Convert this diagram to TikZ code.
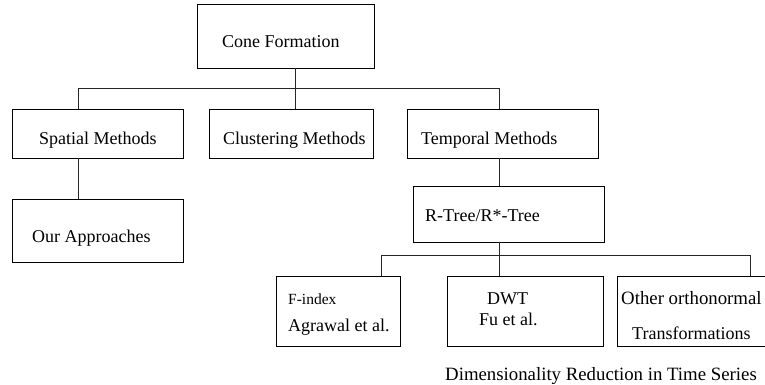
\documentclass[tikz,border=0pt]{standalone}
\usepackage{fontspec}
\setmainfont{Liberation Serif}
\usepackage{tikz}
\usetikzlibrary{calc}

\begin{document}
\begin{tikzpicture}[x=1pt,y=-1pt,
    box/.style={draw=black,line width=0.9pt,inner sep=0pt},
    txt/.style={inner sep=0pt,anchor=base west,font=\fontsize{18}{22}\selectfont},
    small/.style={txt,font=\fontsize{15.5}{19}\selectfont},
    big/.style={txt,font=\fontsize{18.8}{22}\selectfont},
    conn/.style={draw=black!85,line width=0.9pt}]
    \clip (0,0) rectangle (765,385);
    \useasboundingbox (0,0) rectangle (765,385);

    \node[box,minimum width=177pt,minimum height=64pt] (cone) at (285.5,36) {};
    \node[box,minimum width=171pt,minimum height=49pt] (spatial) at (97.5,133.5) {};
    \node[box,minimum width=164pt,minimum height=49pt] (cluster) at (291,133.5) {};
    \node[box,minimum width=191pt,minimum height=49pt] (temporal) at (502.5,133.5) {};
    \node[box,minimum width=171pt,minimum height=63pt] (approach) at (97.5,230.5) {};
    \node[box,minimum width=191pt,minimum height=56pt] (rtree) at (508.5,214) {};
    \node[box,minimum width=124pt,minimum height=70pt] (findex) at (338,311) {};
    \node[box,minimum width=156pt,minimum height=70pt] (dwt) at (525,311) {};
    \node[box,minimum width=180pt,minimum height=70pt] (other) at (707,311) {};

    \node[txt] (coneT) at (222,47.7) {Cone Formation};
    \node[txt] (spatialT) at (39,144) {Spatial Methods};
    \node[txt] (clusterT) at (223,144) {Clustering Methods};
    \node[txt] (temporalT) at (421,144) {Temporal Methods};
    \node[txt] (approachT) at (32,242) {Our Approaches};
    \node[txt] (rtreeT) at (425,221.7) {R-Tree/R*-Tree};
    \node[small] (findexT) at (288,304) {F-index};
    \node[txt] (agrawalT) at (288,331.7) {Agrawal et al.};
    \node[txt] (dwtT) at (487,304) {DWT};
    \node[txt] (fuT) at (479,325) {Fu et al.};
    \node[big] (otherT) at (621,304) {Other orthonormal};
    \node[txt] (transT) at (632,339) {Transformations};
    \node[big] (caption) at (445,380) {Dimensionality Reduction in Time Series};

    \coordinate (sp) at (78,88);
    \coordinate (cl) at (295,88);
    \coordinate (tm) at (499,88);
    \coordinate (fb) at (381,255);
    \coordinate (ob) at (750,255);

    \draw[conn] (cone.south -| cl) -- (cluster.north -| cl);
    \draw[conn] (spatial.north -| sp) -- (sp) -- (tm) -- (temporal.north -| tm);
    \draw[conn] (spatial.south -| sp) -- (approach.north -| sp);
    \draw[conn] (temporal.south -| tm) -- (rtree.north -| tm);
    \draw[conn] (rtree.south -| tm) -- (dwt.north -| tm);
    \draw[conn] (findex.north -| fb) -- (fb) -- (ob) -- (other.north -| ob);
\end{tikzpicture}
\end{document}
